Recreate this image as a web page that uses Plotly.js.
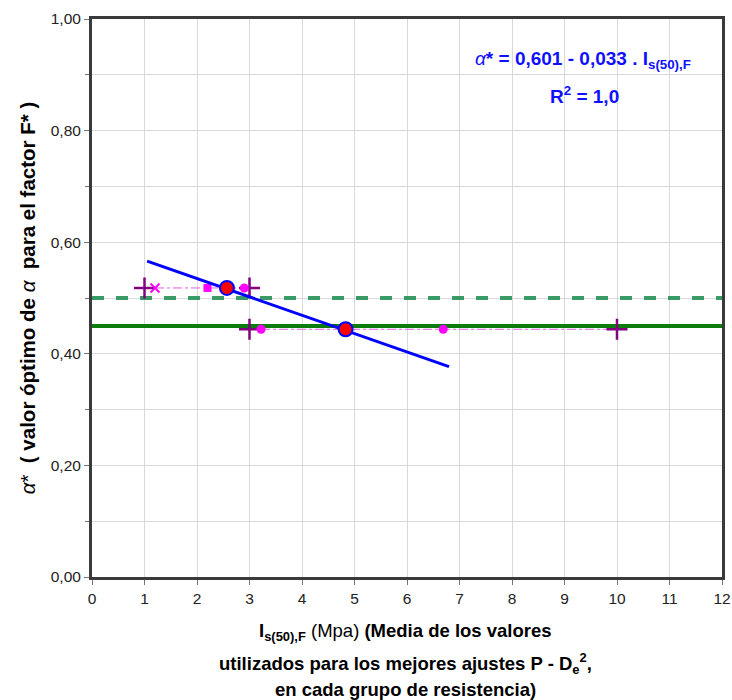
<!DOCTYPE html>
<html>
<head>
<meta charset="utf-8">
<script src="https://cdn.plot.ly/plotly-3.0.1.min.js"></script>
<style>body{margin:0;padding:0;background:#fff}#chart{width:732px;height:700px}</style>
</head>
<body>
<div id="chart"></div>
<script>
// Data
const groupA_plusX = [1.0, 3.0];
const groupA_plusY = [0.518, 0.518];
const groupA_xMarkX = [1.2];
const groupA_xMarkY = [0.518];
const groupA_squareX = [2.2];
const groupA_squareY = [0.518];
const groupA_circleX = [2.9];
const groupA_circleY = [0.518];
const groupA_lineX = [1.2, 2.2, 2.9];
const groupA_lineY = [0.518, 0.518, 0.518];

const groupB_plusX = [3.0, 10.0];
const groupB_plusY = [0.444, 0.444];
const groupB_circleX = [3.22, 6.69];
const groupB_circleY = [0.444, 0.444];
const groupB_lineX = [3.22, 6.69, 10.0];
const groupB_lineY = [0.444, 0.444, 0.444];

const meanX = [2.57, 4.83];
const meanY = [0.518, 0.444];

const fitX = [1.05, 6.8];
const fitY = [0.566, 0.377];

const refDashedX = [0, 12];
const refDashedY = [0.50, 0.50];
const refSolidX = [0, 12];
const refSolidY = [0.45, 0.45];

const xTicks = [0,1,2,3,4,5,6,7,8,9,10,11,12];
const yTicks = [0, 0.2, 0.4, 0.6, 0.8, 1.0];
const yTickText = ['0,00','0,20','0,40','0,60','0,80','1,00'];

const xTitleLines = [
  '<b>I<sub>s(50),F</sub></b> (Mpa) <b>(Media de los valores</b>',
  '<b>utilizados para los mejores ajustes P - D<sub>e</sub><sup>2</sup>,</b>',
  '<b>en cada grupo de resistencia)</b>'
];
const xTitleY = [-0.099, -0.155, -0.202];

const traces = [
  {x: refDashedX, y: refDashedY, mode:'lines', line:{color:'#3a9a66', width:4, dash:'dash'}, hoverinfo:'skip'},
  {x: refSolidX, y: refSolidY, mode:'lines', line:{color:'#0a7d0a', width:4}, hoverinfo:'skip'},
  {x: groupA_lineX, y: groupA_lineY, mode:'lines', line:{color:'#e060e0', width:1, dash:'dashdot'}},
  {x: groupB_lineX, y: groupB_lineY, mode:'lines', line:{color:'#e060e0', width:1, dash:'dashdot'}},
  {x: groupA_plusX.concat(groupB_plusX), y: groupA_plusY.concat(groupB_plusY), mode:'markers',
   marker:{symbol:'cross-thin', size:15, line:{color:'#800080', width:2.5}}},
  {x: groupA_xMarkX, y: groupA_xMarkY, mode:'markers',
   marker:{symbol:'x-thin', size:9, line:{color:'#ff00ff', width:2}}},
  {x: groupA_squareX, y: groupA_squareY, mode:'markers',
   marker:{symbol:'square', size:8, color:'#ff00ff'}},
  {x: groupA_circleX.concat(groupB_circleX), y: groupA_circleY.concat(groupB_circleY), mode:'markers',
   marker:{symbol:'circle', size:9, color:'#ff00ff'}},
  {x: fitX, y: fitY, mode:'lines', line:{color:'#0000ff', width:3}},
  {x: meanX, y: meanY, mode:'markers',
   marker:{symbol:'circle', size:14, color:'#ff0000', line:{color:'#0000ff', width:2}}}
];

const layout = {
  width: 732, height: 700,
  margin: {l: 92, r: 10, t: 19, b: 123},
  paper_bgcolor: '#ffffff', plot_bgcolor: '#ffffff',
  showlegend: false,
  separators: ',.',
  font: {family: 'Liberation Sans, Arial, sans-serif', color: '#222'},
  xaxis: {
    range: [0, 12], tickvals: xTicks, ticktext: xTicks.map(String),
    showgrid: true, gridcolor: '#d9d9d9', gridwidth: 1,
    zeroline: false,
    showline: true, mirror: true, linecolor: '#3a3a3a', linewidth: 3,
    ticks: 'outside', ticklen: 5, tickcolor: '#777', tickwidth: 1,
    tickfont: {size: 15.5, color: '#222'},
    automargin: false
  },
  yaxis: {
    range: [0, 1], tickvals: yTicks, ticktext: yTickText,
    showgrid: true, gridcolor: '#d9d9d9', gridwidth: 1,
    zeroline: false,
    showline: true, mirror: true, linecolor: '#3a3a3a', linewidth: 3,
    ticks: 'outside', ticklen: 5, tickcolor: '#777', tickwidth: 1,
    tickfont: {size: 15.5, color: '#222'},
    minor: {dtick: 0.1, tick0: 0, showgrid: true, gridcolor: '#d9d9d9', ticks: 'outside', ticklen: 4, tickcolor: '#777'},
    title: {
      text: '<i>α</i>*  <b>( valor óptimo de </b><i>α</i><b>  para el factor F* )</b>',
      font: {size: 20.5, color: '#000'}, standoff: 10
    },
    automargin: false
  },
  annotations: xTitleLines.map((t, i) => ({
    xref:'paper', yref:'paper', x: 0.498, y: xTitleY[i], xanchor:'center', yanchor:'middle', showarrow:false,
    text: t, font:{size:18.5, color:'#000'}
  })).concat([
    {xref:'paper', yref:'paper', x: 0.78, y: 0.926, xanchor:'center', yanchor:'middle', showarrow:false,
     text: '<i>α</i><b>* = 0,601 - 0,033 . I<sub>s(50),F</sub></b>', font:{size:19, color:'#1010ff'}},
    {xref:'paper', yref:'paper', x: 0.782, y: 0.864, xanchor:'center', yanchor:'middle', showarrow:false,
     text: '<b>R<sup>2</sup> = 1,0</b>', font:{size:19, color:'#1010ff'}}
  ])
};

Plotly.newPlot('chart', traces, layout, {staticPlot: true, displayModeBar: false});
</script>
</body>
</html>
